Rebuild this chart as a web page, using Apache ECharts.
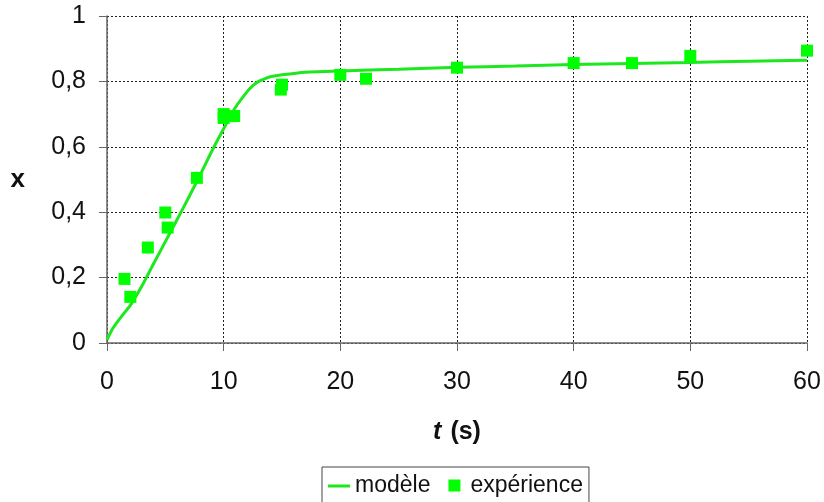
<!DOCTYPE html>
<html>
<head>
<meta charset="utf-8">
<script src="https://cdn.jsdelivr.net/npm/echarts@6/dist/echarts.min.js"></script>
<style>
html,body{margin:0;padding:0;background:#fff;}
#chart{width:824px;height:502px;}
</style>
</head>
<body>
<div id="chart"></div>
<script>
const modelT = [0, 0.5, 1, 1.5, 2, 3, 4, 5, 6, 7, 8, 9, 10, 11, 12, 12.5, 13, 13.5, 14, 15, 17, 20, 25, 30, 35, 40, 45, 50, 55, 60];
const modelX = [0.01, 0.045, 0.07, 0.093, 0.115, 0.175, 0.243, 0.31, 0.377, 0.445, 0.515, 0.588, 0.655, 0.72, 0.768, 0.787, 0.8, 0.808, 0.814, 0.82, 0.828, 0.832, 0.837, 0.843, 0.847, 0.852, 0.855, 0.858, 0.862, 0.865];
const expT = [1.5, 2, 3.5, 5, 5.2, 7.7, 10, 10, 10.9, 14.9, 15, 20, 22.2, 30, 40, 45, 50, 60];
const expX = [0.196, 0.141, 0.292, 0.399, 0.353, 0.505, 0.70, 0.688, 0.694, 0.775, 0.79, 0.82, 0.808, 0.842, 0.856, 0.856, 0.878, 0.894];
const xTicks = [0, 10, 20, 30, 40, 50, 60];
const yTicks = [0, 0.2, 0.4, 0.6, 0.8, 1];
const seriesNames = ['modèle', 'expérience'];

const FONT = '"Liberation Sans", Arial, sans-serif';
const chart = echarts.init(document.getElementById('chart'), null, {renderer: 'canvas'});
const gridStyle = {type: [2, 2], color: '#222', width: 1};

chart.setOption({
  animation: false,
  backgroundColor: '#fff',
  textStyle: {fontFamily: FONT},
  grid: {left: 107, right: 17, top: 16, bottom: 159, containLabel: false},
  xAxis: {
    type: 'value',
    min: xTicks[0], max: xTicks[xTicks.length - 1], interval: 10,
    axisLine: {show: true, onZero: false, lineStyle: {color: '#666', width: 1.5}},
    axisTick: {show: true, length: 8, inside: false, lineStyle: {color: '#666', width: 1}},
    axisLabel: {color: '#111', fontSize: 25, fontFamily: FONT, margin: 27},
    splitLine: {show: true, lineStyle: gridStyle},
    name: '{t|t}{g|}{s|(s)}',
    nameLocation: 'middle',
    nameGap: 77,
    nameTextStyle: {
      rich: {
        t: {fontSize: 25, fontWeight: 'bold', fontStyle: 'italic', color: '#111', fontFamily: FONT},
        g: {width: 9},
        s: {fontSize: 25, fontWeight: 'bold', color: '#111', fontFamily: FONT}
      }
    }
  },
  yAxis: {
    type: 'value',
    min: yTicks[0], max: yTicks[yTicks.length - 1], interval: 0.2,
    axisLine: {show: true, onZero: false, lineStyle: {color: '#666', width: 1.5}},
    axisTick: {show: true, length: 8, lineStyle: {color: '#666', width: 1}},
    axisLabel: {color: '#111', fontSize: 25, fontFamily: FONT, margin: 21,
      formatter: v => String(Math.round(v * 10) / 10).replace('.', ',')},
    splitLine: {show: true, lineStyle: gridStyle},
    name: 'x',
    nameLocation: 'middle',
    nameRotate: 0,
    nameGap: 82,
    nameTextStyle: {fontSize: 26, fontWeight: 'bold', color: '#111', fontFamily: FONT}
  },
  legend: {
    left: 322,
    top: 467,
    padding: [7, 6, 8, 6],
    borderColor: '#444',
    borderWidth: 1,
    itemGap: 13,
    itemWidth: 22,
    itemHeight: 12,
    textStyle: {fontSize: 23, color: '#111', fontFamily: FONT},
    data: [
      {name: seriesNames[0], icon: 'path://M0,0 M0,5 L22,5 L22,8 L0,8 Z M22,12'},
      {name: seriesNames[1], icon: 'path://M0,0 M5,0 L17,0 L17,12 L5,12 Z M22,12'}
    ]
  },
  series: [
    {
      name: seriesNames[0],
      type: 'line',
      data: modelT.map((t, i) => [t, modelX[i]]),
      smooth: 0.2,
      showSymbol: false,
      symbol: 'none',
      lineStyle: {color: '#1de81d', width: 3},
      itemStyle: {color: '#1de81d'},
      z: 2
    },
    {
      name: seriesNames[1],
      type: 'scatter',
      data: expT.map((t, i) => [t, expX[i]]),
      symbol: 'rect',
      symbolSize: 12,
      itemStyle: {color: '#00ff00', opacity: 1},
      z: 3
    }
  ]
});
</script>
</body>
</html>
